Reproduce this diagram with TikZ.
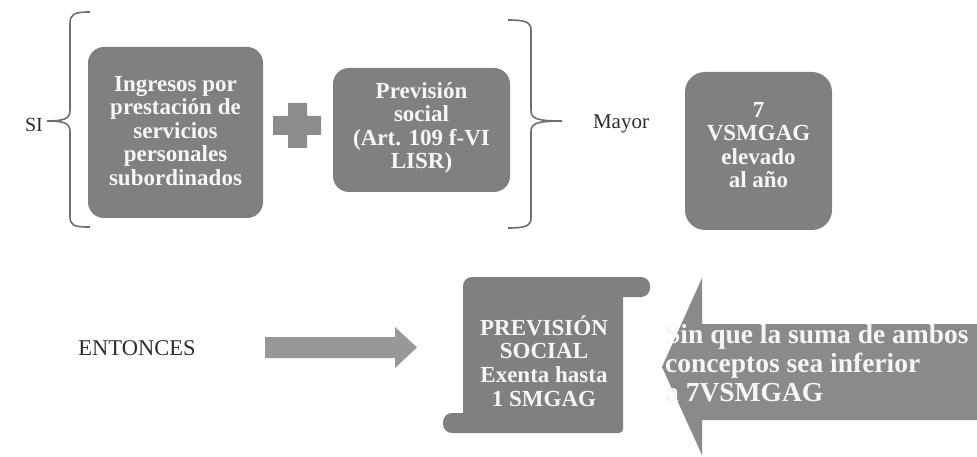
\documentclass[tikz,border=0pt]{standalone}
\usepackage{fontspec}
\setmainfont{Liberation Serif}
\definecolor{boxgray}{RGB}{128,128,128}
\definecolor{plusgray}{RGB}{140,140,140}
\definecolor{rarrowgray}{RGB}{152,152,152}
\definecolor{larrowgray}{RGB}{138,138,138}
\definecolor{boxtextc}{RGB}{246,246,246}
\definecolor{bracegray}{RGB}{110,110,110}
\definecolor{labelc}{RGB}{45,45,45}
\begin{document}
\begin{tikzpicture}[x=1pt,y=-1pt,
  boxshape/.style={fill=boxgray, draw=none, rounded corners=16pt, inner sep=0pt},
  boxtext/.style={text=boxtextc, font=\bfseries\fontsize{23}{23.6}\selectfont, align=center, inner sep=0pt},
  arrowtext/.style={text=boxtextc, font=\bfseries\fontsize{27.5}{29}\selectfont, align=left, inner sep=0pt},
  plainlabel/.style={text=labelc, font=\fontsize{21}{24}\selectfont, inner sep=0pt},
  bracepath/.style={draw=bracegray, line width=1.6pt}]
\useasboundingbox (0,0) rectangle (977,457);

% labels
\node[plainlabel, font=\fontsize{20}{22}\selectfont] (si) at (34,125) {SI};
\node[plainlabel] (mayor) at (621,124) {Mayor};
\node[plainlabel, font=\fontsize{22.5}{24}\selectfont] (entonces) at (137,348) {ENTONCES};

% boxes
\node[boxshape, minimum width=175pt, minimum height=171pt] (b1) at (175.5,132.5) {};
\node[boxtext] (t1) at (175.5,131) {Ingresos por\\prestación de\\servicios\\personales\\subordinados};

\node[boxshape, minimum width=177pt, minimum height=124pt] (b2) at (421.5,130) {};
\node[boxtext] (t2) at (421.5,128) {Previsión\\social\\(Art. 109 f-VI\\LISR)};

\node[boxshape, minimum width=147pt, minimum height=158pt, rounded corners=20pt] (b3) at (758.5,151) {};
\node[boxtext] (t3) at (758.5,145) {7\\VSMGAG\\elevado\\al año};

% plus sign
\coordinate (plus) at (297,125.5);
\fill[plusgray] (288,103) -- (307,103) -- (307,116) -- (321,116) -- (321,135) -- (307,135) -- (307,148) -- (288,148) -- (288,135) -- (273,135) -- (273,116) -- (288,116) -- cycle;

% braces
\coordinate (lbtip) at (47,121);
\draw[bracepath] (90,12) .. controls (74,12) and (70,14) .. (70,24) -- (70,110)
  .. controls (70,118) and (66,121) .. (lbtip)
  .. controls (66,121) and (70,124) .. (70,132) -- (70,216)
  .. controls (70,226) and (74,227) .. (90,227);
\coordinate (rbtip) at (562,121);
\draw[bracepath] (508,20) .. controls (525,20) and (531,22) .. (531,30) -- (531,110)
  .. controls (531,118) and (535,121) .. (rbtip)
  .. controls (535,121) and (531,124) .. (531,132) -- (531,218)
  .. controls (531,226) and (525,228) .. (508,228);

% right arrow
\fill[rarrowgray] (265,337) -- (395,337) -- (395,327) -- (417,347.5) -- (395,368) -- (395,358) -- (265,358) -- cycle;

% scroll
\fill[boxgray, rounded corners=4pt] (463,285) rectangle (623,433);
\fill[boxgray, rounded corners=9pt] (463,277) rectangle (650,297);
\fill[boxgray, rounded corners=9pt] (443,413) rectangle (476,433);
\coordinate (scroll) at (544,355);
\node[boxtext] (t4) at (544,361) {PREVISIÓN\\SOCIAL\\Exenta hasta\\1 SMGAG};

% left arrow
\fill[larrowgray] (977,324) -- (702,324) -- (702,278) -- (662,367) -- (702,455) -- (702,420) -- (977,420) -- cycle;
\node[arrowtext, anchor=west] (t5) at (665,363) {Sin que la suma de ambos\\conceptos sea inferior\\a 7VSMGAG};
\end{tikzpicture}
\end{document}
